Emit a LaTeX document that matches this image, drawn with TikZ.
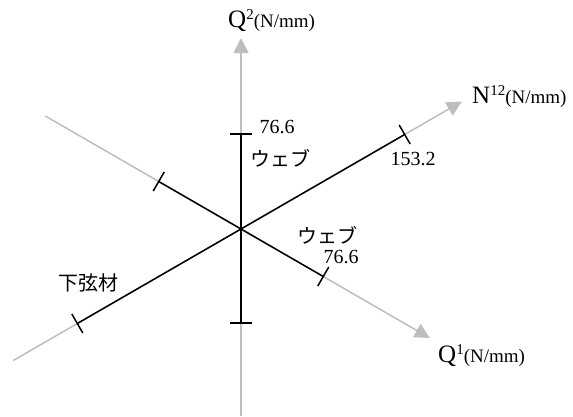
\documentclass[tikz,border=0pt]{standalone}
\usepackage{fontspec}
\setmainfont{Liberation Serif}
\newfontfamily\cjk{Noto Sans CJK JP}
\usetikzlibrary{arrows.meta,calc}
\tikzset{
  axis/.style={draw={rgb,255:red,190;green,190;blue,190}, line width=1.5pt,
    -{Triangle[length=15pt,width=15pt]}},
  seg/.style={draw=black, line width=1.5pt},
  tickmark/.style={draw=black, line width=1.5pt},
  num/.style={font=\fontsize{20}{20}\selectfont, inner sep=0pt},
  jp/.style={font=\cjk\fontsize{20}{20}\selectfont, inner sep=0pt},
  axlabel/.style={inner sep=0pt, anchor=base west}
}
\newcommand{\axname}[2]{{\fontsize{25}{25}\selectfont #1}\raisebox{8pt}{\fontsize{15}{15}\selectfont #2}{\fontsize{19}{19}\selectfont (N/mm)}}
\begin{document}
\begin{tikzpicture}[x=1pt,y=-1pt]
\useasboundingbox (0,0) rectangle (573,416);
% key points (y grows downward; angle a points to (cos a, sin a) in page pixels)
\coordinate (O) at (241,229);
\coordinate (Q2bot) at (241,416);
\coordinate (Q2tip) at (241,38);
\coordinate (Q2a) at (241,134);
\coordinate (Q2b) at (241,323);
\coordinate (Nlow) at ($(O)+(150:263)$);
\coordinate (Ntip) at ($(O)+(-30:255)$);
\coordinate (Na) at ($(O)+(150:189)$);
\coordinate (Nb) at ($(O)+(-30:189)$);
\coordinate (Q1up) at ($(O)+(210:226)$);
\coordinate (Q1tip) at ($(O)+(30:218)$);
\coordinate (Q1a) at ($(O)+(210:95)$);
\coordinate (Q1b) at ($(O)+(30:95)$);
% gray axes
\draw[axis] (Q2bot) -- (Q2tip);
\draw[axis] (Nlow) -- (Ntip);
\draw[axis] (Q1up) -- (Q1tip);
% black segments
\draw[seg] (Q2a) -- (Q2b);
\draw[seg] (Na) -- (Nb);
\draw[seg] (Q1a) -- (Q1b);
% ticks
\foreach \p/\q in {Q2a/Q2b, Q2b/Q2a, Na/Nb, Nb/Na, Q1a/Q1b, Q1b/Q1a}{
  \draw[tickmark] ($(\p)!11pt!90:(\q)$) -- ($(\p)!11pt!-90:(\q)$);
}
% axis labels
\node[axlabel] (lQ2) at (228,27) {\axname{Q}{2}};
\node[axlabel] (lN) at (472,103) {\axname{N}{12}};
\node[axlabel] (lQ1) at (438,362) {\axname{Q}{1}};
% values
\node[num] (v1) at (277,127) {76.6};
\node[jp] (w1) at (280,158) {ウェブ};
\node[jp] (w2) at (327,235) {ウェブ};
\node[num] (v2) at (341,257) {76.6};
\node[num] (v3) at (413,159) {153.2};
\node[jp] (k) at (88,283) {下弦材};
\end{tikzpicture}
\end{document}
